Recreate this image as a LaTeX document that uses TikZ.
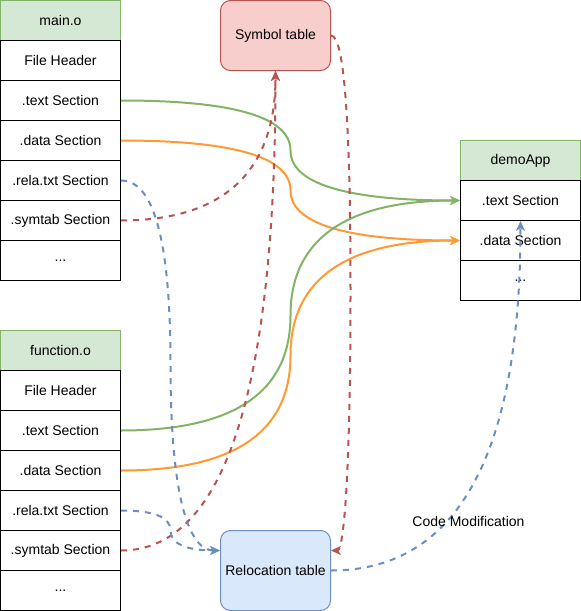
\documentclass[tikz,border=0pt]{standalone}
\usepackage{fontspec}
\setmainfont{Liberation Sans}
\usetikzlibrary{arrows.meta}

\definecolor{hdrfill}{HTML}{D5E8D4}
\definecolor{hdrline}{HTML}{82B366}
\definecolor{symfill}{HTML}{F8CECC}
\definecolor{symline}{HTML}{B85450}
\definecolor{relfill}{HTML}{DAE8FC}
\definecolor{relline}{HTML}{6C8EBF}
\definecolor{dataline}{HTML}{FF9933}

\newcommand\etcdots{...}

\begin{document}
\begin{tikzpicture}[x=1pt, y=-1pt,
  font=\fontsize{14pt}{16pt}\selectfont,
  cell/.style={draw, line width=1pt, minimum width=120pt, minimum height=40pt, inner sep=0pt},
  head/.style={cell, fill=hdrfill, draw=hdrline},
  tablebox/.style={draw, line width=1pt, rounded corners=10pt, minimum width=110pt, inner sep=0pt},
  tip/.style={-{Stealth[length=10pt, width=9pt, inset=3pt]}},
  textedge/.style={tip, line width=2pt, hdrline},
  dataedge/.style={tip, line width=2pt, dataline},
  symedge/.style={tip, line width=2pt, symline, dash pattern=on 6pt off 6pt},
  reledge/.style={tip, line width=2pt, relline, dash pattern=on 6pt off 6pt}]

  \useasboundingbox (-0.5, -0.5) rectangle (580.5, 610.5);

  % object files and the linked app
  \node[head] (mhead) at (60, 20) {main.o};
  \foreach \nm/\txt [count=\i] in {file/File Header, text/.text Section, data/.data Section,
      rela/.rela.txt Section, sym/.symtab Section, dots/\etcdots}
    \node[cell] (m\nm) at (60, 20+40*\i) {\txt};

  \node[head] (fhead) at (60, 350) {function.o};
  \foreach \nm/\txt [count=\i] in {file/File Header, text/.text Section, data/.data Section,
      rela/.rela.txt Section, sym/.symtab Section, dots/\etcdots}
    \node[cell] (f\nm) at (60, 350+40*\i) {\txt};

  \node[head] (ahead) at (520, 160) {demoApp};
  \foreach \nm/\txt [count=\i] in {text/.text Section, data/.data Section, dots/\etcdots}
    \node[cell] (a\nm) at (520, 160+40*\i) {\txt};

  \node[tablebox, fill=symfill, draw=symline, minimum height=70pt] (symtab) at (275, 35) {Symbol table};
  \node[tablebox, fill=relfill, draw=relline, minimum height=80pt] (reltab) at (275, 570) {Relocation table};

  % sections merged into demoApp
  \draw[textedge] (mtext.east) .. controls +(113.3,0) and +(0,-33.3) .. (290,150)
    .. controls +(0,33.3) and +(-113.3,0) .. (atext.west);
  \draw[dataedge] (mdata.east) .. controls +(113.3,0) and +(0,-33.3) .. (290,190)
    .. controls +(0,33.3) and +(-113.3,0) .. (adata.west);
  \draw[textedge] (ftext.east) .. controls +(113.3,0) and +(0,76.7) .. (290,315)
    .. controls +(0,-76.7) and +(-113.3,0) .. (atext.west);
  \draw[dataedge] (fdata.east) .. controls +(113.3,0) and +(0,76.7) .. (290,355)
    .. controls +(0,-76.7) and +(-113.3,0) .. (adata.west);

  % symbols
  \draw[symedge] (msym.east) .. controls +(103.3,0) and +(0,100) .. (symtab.south);
  \draw[symedge] (fsym.east) .. controls +(103.3,0) and +(0,320) .. (symtab.south);
  \draw[symedge] (symtab.east) .. controls +(13.3,0) and +(0,-171.7) .. (350,292.5)
    .. controls +(0,171.7) and +(13.3,0) .. ([yshift=20pt]reltab.east);

  % relocations
  \draw[reledge] (mrela.east) .. controls +(33.3,0) and +(0,-123.3) .. (170,365)
    .. controls +(0,123.3) and +(-33.3,0) .. ([yshift=20pt]reltab.west);
  \draw[reledge] (frela.east) .. controls +(33.3,0) and +(0,-13.3) .. (170,530)
    .. controls +(0,13.3) and +(-33.3,0) .. ([yshift=20pt]reltab.west);
  \draw[reledge] (reltab.east) .. controls +(126.7,0) and +(0,233.3) .. (atext.south);
  \node (codemod) at (468, 521) {Code Modification};

\end{tikzpicture}
\end{document}
